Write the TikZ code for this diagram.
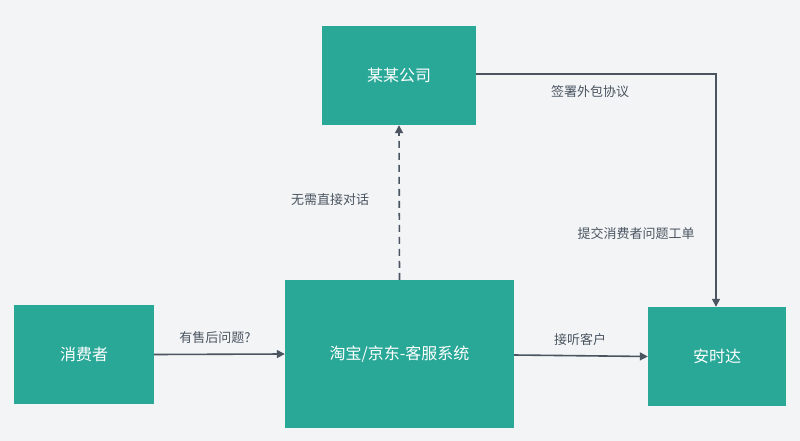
\documentclass[tikz,border=0pt]{standalone}
\usepackage{fontspec}
\setmainfont{Noto Sans CJK SC}
\usetikzlibrary{arrows.meta}
\definecolor{bg}{HTML}{F3F4F6}
\definecolor{teal}{HTML}{29A898}
\definecolor{ln}{HTML}{4A5560}
\begin{document}
\begin{tikzpicture}[x=1pt,y=-1pt,
  box/.style={fill=teal,draw=none,text=white,font=\fontsize{16}{18}\selectfont,inner sep=0pt},
  conn/.style={draw=ln,line width=1.6pt,-{Triangle[length=8pt,width=8pt]}},
  lbl/.style={text=ln,font=\fontsize{13}{15}\selectfont}]
\fill[bg] (0,0) rectangle (800,441);
\useasboundingbox (0,0) rectangle (800,441);
\node[box,minimum width=154pt,minimum height=99pt] (co) at (399,75.5) {某某公司};
\node[box,minimum width=140pt,minimum height=99pt] (cu) at (84,354.5) {消费者};
\node[box,minimum width=229pt,minimum height=148pt] (tb) at (399.5,354) {淘宝/京东-客服系统};
\node[box,minimum width=138pt,minimum height=99pt] (ash) at (717,356.5) {安时达};
\coordinate (corner) at (716,74);
\draw[conn] (cu.east) -- (tb.west);
\draw[conn,dashed,dash pattern=on 7pt off 5pt] (tb.north) -- (co.south);
\draw[conn] (co.east |- corner) -- (corner) -- (ash.north -| corner);
\draw[conn] ([yshift=-1pt]tb.east) -- (ash.west);
\node[lbl] at (215,338) {有售后问题?};
\node[lbl] at (330,200) {无需直接对话};
\node[lbl] at (590,92) {签署外包协议};
\node[lbl] at (636,234) {提交消费者问题工单};
\node[lbl] at (580,340) {接听客户};
\end{tikzpicture}
\end{document}
